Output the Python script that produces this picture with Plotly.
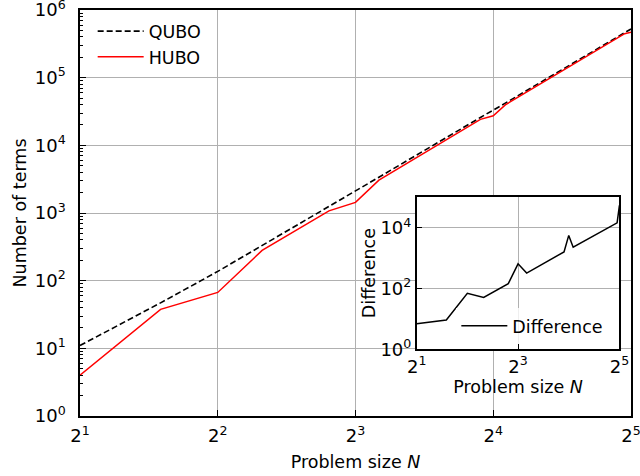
import plotly.graph_objects as go

# Data
N = [2, 3, 4, 5, 7, 8, 9, 15, 16, 17, 31, 32]
qubo = [11, 47, 137, 330, 1220, 2090, 3380, 25800, 33000, 42000, 462000, 524000]
hubo = [4, 37.7, 67, 280, 1074, 1437, 3055, 24200, 27400, 39700, 447000, 469000]
difference = [7, 9.3, 70, 51, 146, 653, 325, 1610, 5620, 2290, 14550, 55000]

x_tickvals = [2, 4, 8, 16, 32]
x_ticktext = ["2<sup>1</sup>", "2<sup>2</sup>", "2<sup>3</sup>", "2<sup>4</sup>", "2<sup>5</sup>"]
y_tickvals = [1, 10, 100, 1000, 10000, 100000, 1000000]
y_ticktext = ["10<sup>%d</sup>" % i for i in range(7)]
in_x_tickvals = [2, 8, 32]
in_x_ticktext = ["2<sup>1</sup>", "2<sup>3</sup>", "2<sup>5</sup>"]
in_y_tickvals = [1, 100, 10000]
in_y_ticktext = ["10<sup>0</sup>", "10<sup>2</sup>", "10<sup>4</sup>"]

minor_y = [m * 10 ** e for e in range(6) for m in range(2, 10)]

FONT = "DejaVu Sans"
FS = 17.5
TFS = 18

fig = go.Figure()
fig.add_trace(go.Scatter(x=N, y=qubo, mode="lines", name="QUBO",
                         line=dict(color="black", width=1.6, dash="6px,3px"),
                         xaxis="x", yaxis="y", legend="legend"))
fig.add_trace(go.Scatter(x=N, y=hubo, mode="lines", name="HUBO",
                         line=dict(color="#ff0000", width=1.5),
                         xaxis="x", yaxis="y", legend="legend"))
fig.add_trace(go.Scatter(x=N, y=difference, mode="lines", name="Difference",
                         line=dict(color="black", width=1.5),
                         xaxis="x2", yaxis="y2", legend="legend2"))

axis_common = dict(
    type="log", showline=True, linecolor="black", linewidth=1.5, mirror=True,
    ticks="inside", tickcolor="black", ticklen=6, tickwidth=1.2,
    showgrid=True, gridcolor="#b0b0b0", gridwidth=1, zeroline=False,
    tickfont=dict(family=FONT, size=TFS, color="black"),
    tickmode="array", automargin=False, ticklabeloverflow="allow",
)

fig.update_layout(
    width=640, height=476,
    margin=dict(l=80, r=9, t=10, b=60),
    paper_bgcolor="white", plot_bgcolor="white",
    font=dict(family=FONT, size=FS, color="black"),
    xaxis=dict(axis_common, range=[0.30103, 1.50515], tickvals=x_tickvals, ticktext=x_ticktext,
               ticklabelstandoff=3,
               title=dict(text="Problem size <i>N</i>", font=dict(family=FONT, size=FS), standoff=10)),
    yaxis=dict(axis_common, range=[0, 6], tickvals=y_tickvals, ticktext=y_ticktext,
               ticklabelstandoff=9,
               minor=dict(tickmode="array", tickvals=minor_y, ticks="inside", ticklen=3,
                          tickcolor="black", showgrid=False),
               title=dict(text="Number of terms", font=dict(family=FONT, size=FS), standoff=4)),
    xaxis2=dict(axis_common, domain=[0.611, 0.979], anchor="y2", range=[0.30103, 1.50515],
                tickvals=in_x_tickvals, ticktext=in_x_ticktext,
                title=dict(text="Problem size <i>N</i>", font=dict(family=FONT, size=FS), standoff=5)),
    yaxis2=dict(axis_common, domain=[0.164, 0.540], anchor="x2", range=[0, 5.02],
                tickvals=in_y_tickvals, ticktext=in_y_ticktext,
                title=dict(text="Difference", font=dict(family=FONT, size=FS), standoff=0)),
    legend=dict(x=0.023, y=0.992, xanchor="left", yanchor="top", itemwidth=46,
                bgcolor="rgba(255,255,255,0.8)", borderwidth=0,
                font=dict(family=FONT, size=FS, color="black")),
    legend2=dict(x=0.683, y=0.222, xanchor="left", yanchor="middle", itemwidth=46,
                 bgcolor="rgba(255,255,255,0.8)", borderwidth=0,
                 font=dict(family=FONT, size=FS, color="black")),
    showlegend=True,
)

# Inset white background
fig.add_shape(type="rect", xref="x2 domain", yref="y2 domain", x0=0, x1=1, y0=0, y1=1,
              fillcolor="white", line=dict(width=0), layer="below")

fig.write_html("out.html")
